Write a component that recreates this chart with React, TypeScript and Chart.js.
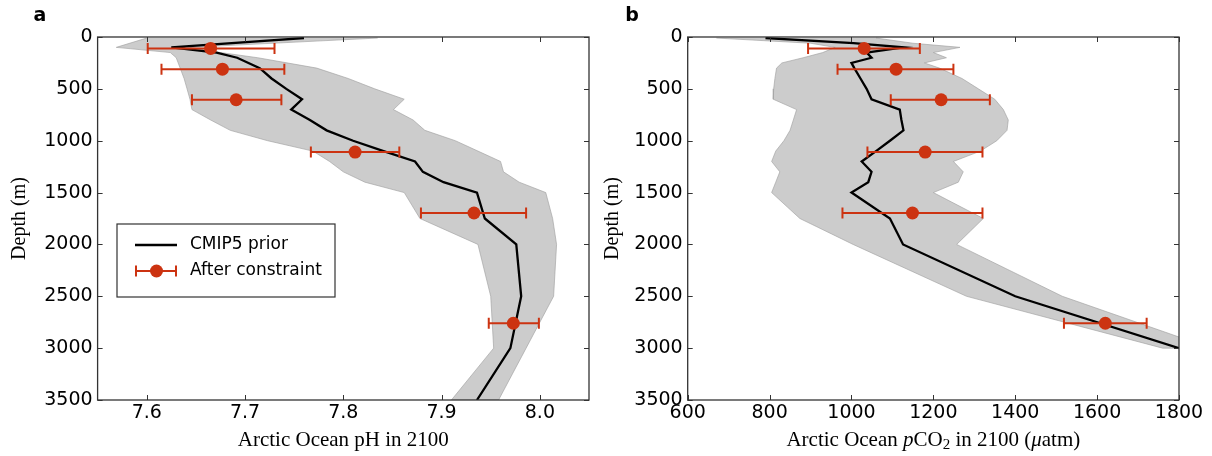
import React, { useEffect, useRef } from 'react';
import { Chart, registerables } from 'chart.js';
Chart.register(...registerables);

// ---------- Panel a: pH ----------
const depthA = [10, 100, 150, 200, 300, 400, 500, 600, 700, 800, 900, 1000, 1100, 1200, 1300, 1400, 1500, 1750, 2000, 2500, 3000, 3500];
const phPrior = [7.760, 7.625, 7.671, 7.692, 7.715, 7.727, 7.742, 7.758, 7.747, 7.766, 7.783, 7.810, 7.841, 7.873, 7.881, 7.902, 7.936, 7.944, 7.976, 7.981, 7.970, 7.936];
const phLow = [7.600, 7.569, 7.624, 7.630, 7.634, 7.638, 7.641, 7.644, 7.646, 7.665, 7.685, 7.723, 7.769, 7.786, 7.800, 7.822, 7.862, 7.878, 7.937, 7.950, 7.953, 7.910];
const phHigh = [7.835, 7.644, 7.675, 7.713, 7.773, 7.805, 7.832, 7.862, 7.851, 7.871, 7.883, 7.914, 7.937, 7.960, 7.963, 7.979, 8.006, 8.013, 8.017, 8.014, 7.986, 7.958];

// ---------- Panel b: pCO2 ----------
const depthB = [10, 60, 100, 150, 200, 250, 300, 400, 500, 600, 700, 800, 900, 1000, 1100, 1200, 1300, 1400, 1500, 1750, 2000, 2500, 3000];
const co2Prior = [790, 1005, 1127, 1037, 1049, 1000, 1007, 1022, 1037, 1049, 1118, 1122, 1127, 1094, 1060, 1025, 1049, 1041, 1000, 1094, 1126, 1400, 1800];
const co2Low = [670, 900, 960, 930, 882, 830, 817, 813, 810, 809, 866, 858, 850, 835, 815, 805, 825, 815, 805, 874, 1004, 1281, 1760];
const co2High = [1060, 1150, 1265, 1200, 1232, 1178, 1215, 1270, 1310, 1350, 1371, 1383, 1380, 1355, 1315, 1249, 1273, 1261, 1200, 1322, 1257, 1515, 1878];

// ---------- After constraint (error bars) ----------
const obsDepth = [110, 310, 605, 1110, 1697, 2760];
const phObs = [7.665, 7.677, 7.691, 7.812, 7.933, 7.973];
const phObsLow = [7.601, 7.615, 7.646, 7.767, 7.879, 7.948];
const phObsHigh = [7.730, 7.740, 7.737, 7.857, 7.986, 7.999];
const co2Obs = [1031, 1109, 1219, 1180, 1149, 1620];
const co2ObsLow = [894, 966, 1096, 1039, 978, 1519];
const co2ObsHigh = [1167, 1249, 1338, 1320, 1320, 1721];

// ---------- Ticks ----------
const depthTicks = [0, 500, 1000, 1500, 2000, 2500, 3000, 3500];
const phTicks = [7.6, 7.7, 7.8, 7.9, 8.0];
const co2Ticks = [600, 800, 1000, 1200, 1400, 1600, 1800];

const RED = '#cc3311';
const TICK_FONT = { family: '"DejaVu Sans", sans-serif', size: 19 };
const SERIF = '"Liberation Serif", "DejaVu Serif", serif';
const TSIZE = 21;

function buildDatasets(depth: number[], prior: number[], low: number[], high: number[], obs: number[], obsLow: number[], obsHigh: number[]) {
  const band = low.map((v, i) => ({ x: v, y: depth[i] }))
    .concat(high.map((v, i) => ({ x: v, y: depth[i] })).reverse());
  const ds: any[] = [];
  ds.push({
    type: 'line', data: band, fill: 'shape', backgroundColor: '#cccccc',
    borderColor: 'rgba(160,160,160,0.8)', borderWidth: 0.8, pointRadius: 0, order: 10,
  });
  ds.push({
    type: 'line', data: prior.map((v, i) => ({ x: v, y: depth[i] })), fill: false,
    borderColor: '#000', borderWidth: 2.3, pointRadius: 0, order: 5,
  });
  obsDepth.forEach((d, i) => {
    ds.push({
      type: 'line', data: [{ x: obsLow[i], y: d }, { x: obsHigh[i], y: d }], fill: false,
      borderColor: RED, borderWidth: 2, pointStyle: 'line', pointRadius: 5.5, pointRotation: 90,
      pointBorderColor: RED, pointBorderWidth: 2, order: 2,
    });
  });
  ds.push({
    type: 'line', data: obs.map((v, i) => ({ x: v, y: obsDepth[i] })), showLine: false, fill: false,
    pointRadius: 6.5, pointBackgroundColor: RED, pointBorderColor: RED, pointBorderWidth: 0, order: 1,
  });
  return ds;
}

const framePlugin = {
  id: 'frameTicks',
  afterDatasetsDraw(chart: any) {
    const { ctx, chartArea: a, scales } = chart;
    const x = scales.x, y = scales.y;
    ctx.save();
    ctx.strokeStyle = '#333';
    ctx.lineWidth = 1;
    ctx.beginPath();
    x.ticks.forEach((t: any) => {
      const px = Math.round(x.getPixelForValue(t.value)) + 0.5;
      ctx.moveTo(px, a.bottom); ctx.lineTo(px, a.bottom - 5);
      ctx.moveTo(px, a.top); ctx.lineTo(px, a.top + 5);
    });
    y.ticks.forEach((t: any) => {
      const py = Math.round(y.getPixelForValue(t.value)) + 0.5;
      ctx.moveTo(a.left, py); ctx.lineTo(a.left + 5, py);
      ctx.moveTo(a.right, py); ctx.lineTo(a.right - 5, py);
    });
    ctx.stroke();
    ctx.lineWidth = 1.3;
    ctx.strokeRect(a.left, a.top, a.right - a.left, a.bottom - a.top);
    ctx.restore();
  },
};

function makeTextPlugin(opts: { letter: string; letterX: number; yTitleX: number; xTitle: (ctx: CanvasRenderingContext2D, cx: number, cy: number) => void; legend: boolean }) {
  return {
    id: 'texts',
    afterDraw(chart: any) {
      const { ctx, chartArea: a } = chart;
      ctx.save();
      ctx.fillStyle = '#000';
      ctx.font = 'bold 19px "DejaVu Sans", sans-serif';
      ctx.textAlign = 'center';
      ctx.textBaseline = 'middle';
      ctx.fillText(opts.letter, opts.letterX, 16);
      // y title
      ctx.save();
      ctx.translate(opts.yTitleX, (a.top + a.bottom) / 2);
      ctx.rotate(-Math.PI / 2);
      ctx.font = `20px ${SERIF}`;
      ctx.textAlign = 'center';
      ctx.textBaseline = 'middle';
      ctx.fillText('Depth (m)', 0, 0);
      ctx.restore();
      // x title
      opts.xTitle(ctx, (a.left + a.right) / 2, 440);
      if (opts.legend) {
        ctx.fillStyle = '#fff';
        ctx.fillRect(117, 224, 218, 73);
        ctx.strokeStyle = '#333';
        ctx.lineWidth = 1.2;
        ctx.strokeRect(117, 224, 218, 73);
        ctx.strokeStyle = '#000';
        ctx.lineWidth = 2.3;
        ctx.beginPath(); ctx.moveTo(135, 245); ctx.lineTo(177, 245); ctx.stroke();
        ctx.strokeStyle = RED;
        ctx.lineWidth = 2;
        ctx.beginPath();
        ctx.moveTo(136, 271); ctx.lineTo(176, 271);
        ctx.moveTo(136, 265.5); ctx.lineTo(136, 276.5);
        ctx.moveTo(176, 265.5); ctx.lineTo(176, 276.5);
        ctx.stroke();
        ctx.fillStyle = RED;
        ctx.beginPath(); ctx.arc(156.5, 271, 6.5, 0, Math.PI * 2); ctx.fill();
        ctx.fillStyle = '#000';
        ctx.font = '17px "DejaVu Sans", sans-serif';
        ctx.textAlign = 'left';
        ctx.fillText('CMIP5 prior', 190, 245);
        ctx.fillText('After constraint', 190, 271);
      }
      ctx.restore();
    },
  };
}

function plainTitle(text: string) {
  return (ctx: CanvasRenderingContext2D, cx: number, cy: number) => {
    ctx.font = `${TSIZE}px ${SERIF}`;
    ctx.textAlign = 'center';
    ctx.textBaseline = 'middle';
    ctx.fillText(text, cx, cy);
  };
}

function co2Title(ctx: CanvasRenderingContext2D, cx: number, cy: number) {
  const segs: [string, string, number][] = [
    ['Arctic Ocean ', `${TSIZE}px ${SERIF}`, 0],
    ['p', `italic ${TSIZE}px ${SERIF}`, 0],
    ['CO', `${TSIZE}px ${SERIF}`, 0],
    ['2', `15px ${SERIF}`, 5],
    [' in 2100 (', `${TSIZE}px ${SERIF}`, 0],
    ['\u03bc', `italic ${TSIZE}px ${SERIF}`, 0],
    ['atm)', `${TSIZE}px ${SERIF}`, 0],
  ];
  let total = 0;
  const widths = segs.map(([t, f]) => { ctx.font = f; const w = ctx.measureText(t).width; total += w; return w; });
  let x = cx - total / 2;
  ctx.textAlign = 'left';
  ctx.textBaseline = 'middle';
  segs.forEach(([t, f, dy], i) => { ctx.font = f; ctx.fillText(t, x, cy + dy); x += widths[i]; });
}

function makeConfig(datasets: any[], xMin: number, xMax: number, xTicks: number[], fmt: (v: number) => string, yWidth: number, padRight: number, plugin: any) {
  return {
    type: 'line',
    data: { datasets },
    options: {
      responsive: false,
      animation: false,
      devicePixelRatio: 1,
      events: [],
      layout: { padding: { left: 0, right: padRight, top: 37, bottom: 0 } },
      plugins: { legend: { display: false }, tooltip: { enabled: false } },
      scales: {
        x: {
          type: 'linear', min: xMin, max: xMax,
          afterBuildTicks: (s: any) => { s.ticks = xTicks.map((v) => ({ value: v })); },
          afterFit: (s: any) => { s.height = 56; },
          ticks: { font: TICK_FONT, color: '#000', padding: 2, maxRotation: 0, autoSkip: false, callback: (v: any) => fmt(Number(v)) },
          grid: { display: false, drawTicks: false },
          border: { display: false },
        },
        y: {
          type: 'linear', min: 0, max: 3500, reverse: true,
          afterBuildTicks: (s: any) => { s.ticks = depthTicks.map((v) => ({ value: v })); },
          afterFit: (s: any) => { s.width = yWidth; },
          ticks: { font: TICK_FONT, color: '#000', padding: 5, autoSkip: false, callback: (v: any) => String(v) },
          grid: { display: false, drawTicks: false },
          border: { display: false },
        },
      },
    },
    plugins: [framePlugin, plugin],
  } as any;
}

export default function App() {
  const refA = useRef<HTMLCanvasElement>(null);
  const refB = useRef<HTMLCanvasElement>(null);
  useEffect(() => {
    const a = new Chart(refA.current as any, makeConfig(
      buildDatasets(depthA, phPrior, phLow, phHigh, phObs, phObsLow, phObsHigh),
      7.55, 8.05, phTicks, (v) => v.toFixed(1), 97.6, 11,
      makeTextPlugin({ letter: 'a', letterX: 40, yTitleX: 20, xTitle: plainTitle('Arctic Ocean pH in 2100'), legend: true }),
    ));
    const b = new Chart(refB.current as any, makeConfig(
      buildDatasets(depthB, co2Prior, co2Low, co2High, co2Obs, co2ObsLow, co2ObsHigh),
      600, 1800, co2Ticks, (v) => String(Math.round(v)), 87.7, 33,
      makeTextPlugin({ letter: 'b', letterX: 32, yTitleX: 13, xTitle: co2Title, legend: false }),
    ));
    return () => { a.destroy(); b.destroy(); };
  }, []);
  return (
    <div style={{ position: 'fixed', left: 0, top: 0, width: 1212, height: 456, background: '#fff' }}>
      <canvas ref={refA} width={600} height={456} style={{ position: 'absolute', left: 0, top: 0 }} />
      <canvas ref={refB} width={612} height={456} style={{ position: 'absolute', left: 600, top: 0 }} />
    </div>
  );
}
